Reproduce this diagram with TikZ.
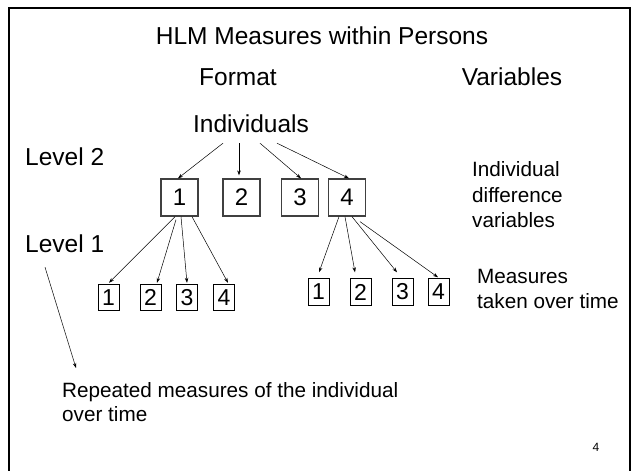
\documentclass[tikz,border=0pt]{standalone}
\usepackage{fontspec}
\setmainfont{Liberation Sans}
\usetikzlibrary{arrows.meta}
\begin{document}
\begin{tikzpicture}[x=1pt,y=-1pt,
  big/.style={font=\fontsize{24.5}{29}\selectfont, inner sep=0pt},
  mid/.style={font=\fontsize{20.7}{25.5}\selectfont, inner sep=0pt, align=left, anchor=west},
  topbox/.style={draw=black!75, line width=1.3pt, minimum width=37pt, minimum height=37pt, inner sep=0pt, font=\fontsize{24}{28}\selectfont},
  smallbox/.style={draw=black, line width=0.9pt, minimum width=21pt, minimum height=26.5pt, inner sep=0pt, font=\fontsize{23}{27}\selectfont},
  arr/.style={line width=0.5pt, -{Stealth[length=5pt,width=3.5pt]}}
]
\useasboundingbox (0,0) rectangle (638,471);
\fill[white] (0,0) rectangle (638,471);
\draw[line width=1.6pt] (9,480) -- (9,8) -- (630,8) -- (630,480);

\node[big] (title) at (322,36) {HLM Measures within Persons};
\node[big] (format) at (238,77) {Format};
\node[big] (vars) at (512,77) {Variables};
\node[big] (ind) at (251,124) {Individuals};
\node[big, anchor=west] (l2) at (25,157) {Level 2};
\node[big, anchor=west] (l1) at (25,244) {Level 1};

\node[topbox] (t1) at (179.5,197.5) {1};
\node[topbox] (t2) at (241.5,197.5) {2};
\node[topbox] (t3) at (300,197.5) {3};
\node[topbox] (t4) at (347,197.5) {4};

\node[smallbox] (b1) at (108.5,297.5) {1};
\node[smallbox] (b2) at (150.5,297.5) {2};
\node[smallbox] (b3) at (187,297.5) {3};
\node[smallbox] (b4) at (224,297.5) {4};

\node[smallbox] (r1) at (318.5,292) {1};
\node[smallbox] (r2) at (360.5,292) {2};
\node[smallbox] (r3) at (402.5,292) {3};
\node[smallbox] (r4) at (438.5,292) {4};

\node[mid] (idv) at (472,195) {Individual\\difference\\variables};
\node[mid, font=\fontsize{20.7}{25}\selectfont] (meas) at (477,288.5) {Measures\\taken over time};
\node[mid, font=\fontsize{20.7}{24}\selectfont] (rep) at (62,402) {Repeated measures of the individual\\over time};
\node[inner sep=0pt, font=\fontsize{12}{14}\selectfont] (pg) at (596,447) {4};

% Individuals to top boxes
\draw[arr] ([xshift=-28pt,yshift=-10pt]ind.south) -- ([xshift=-1.5pt]t1.north);
\draw[arr] ([xshift=-12pt,yshift=-10pt]ind.south) -- ([xshift=-2.5pt,yshift=3pt]t2.north);
\draw[arr] ([xshift=9pt,yshift=-10pt]ind.south) -- ([xshift=1pt]t3.north);
\draw[arr] ([xshift=26pt,yshift=-10pt]ind.south) -- ([xshift=2pt]t4.north);

% box 1 to bottom-left
\draw[arr] ([xshift=-4.5pt]t1.south) -- ([xshift=0.5pt,yshift=1pt]b1.north);
\draw[arr] ([xshift=-3.5pt,yshift=-3pt]t1.south) -- ([xshift=6.5pt,yshift=1pt]b2.north);
\draw[arr] ([xshift=1.5pt]t1.south) -- ([xshift=0pt,yshift=1pt]b3.north);
\draw[arr] ([xshift=12.5pt]t1.south) -- ([xshift=4pt,yshift=1pt]b4.north);

% box 4 to bottom-right
\draw[arr] ([xshift=-8pt]t4.south) -- ([xshift=0.5pt,yshift=6pt]r1.north);
\draw[arr] ([xshift=-2pt]t4.south) -- ([xshift=-5.5pt,yshift=6pt]r2.north);
\draw[arr] ([xshift=5pt]t4.south) -- ([xshift=-5.5pt,yshift=6pt]r3.north);
\draw[arr] ([xshift=13pt,yshift=-5pt]t4.south) -- ([xshift=-0.5pt,yshift=1pt]r4.north);

% Level 1 arrow
\coordinate (lend) at (76,368);
\draw[arr] ([xshift=20pt,yshift=-14pt]l1.south west) -- (lend);
\end{tikzpicture}
\end{document}
